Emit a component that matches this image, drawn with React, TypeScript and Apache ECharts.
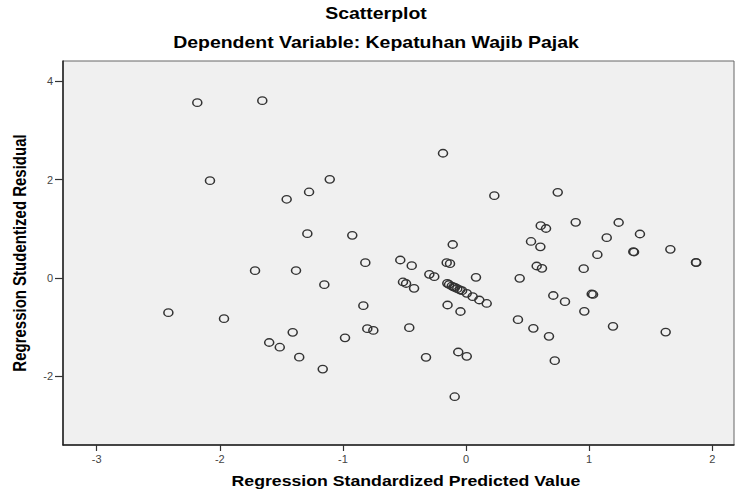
import React, { useEffect, useRef } from "react";
import * as echarts from "echarts";

const titleText = "Scatterplot";
const subtitleText = "Dependent Variable: Kepatuhan Wajib Pajak";
const xAxisName = "Regression Standardized Predicted Value";
const yAxisName = "Regression Studentized Residual";

const xTicks = [-3, -2, -1, 0, 1, 2];
const yTicks = [-2, 0, 2, 4];

const xValues = [
  -2.183, -1.655, -2.08, -0.187, -1.107, -1.275, -1.457, -1.289, -0.924, -0.108,
  0.23, 0.745, 0.607, 0.65, 0.891, 1.24, 0.528, 0.604, 1.143, 1.413,
  1.067, 1.359, 1.365, 1.66, 1.868, 1.87, 0.574, 0.617, 0.956, 0.436,
  0.709, 1.021, 1.032, 0.804, 0.961, 0.168, 0.422, 0.547, 0.674, 1.194,
  1.622, 0.721, -1.714, -1.381, -0.818, -0.534, -0.441, -1.151, -0.298, -0.258,
  -0.512, -0.487, -0.422, -0.157, -0.13, 0.081, -0.15, -0.045, -0.834, -0.802,
  -0.753, -0.461, -1.408, -1.599, -1.513, -0.983, -1.355, -0.325, -0.063, 0.006,
  -1.164, -0.092, -2.418, -1.966, -0.152, -0.138, -0.116, -0.102, -0.089, -0.071,
  -0.049, -0.032, 0.006, 0.054, 0.108,
];

const yValues = [
  3.563, 3.604, 1.978, 2.535, 2.006, 1.748, 1.6, 0.9, 0.868, 0.681,
  1.673, 1.742, 1.063, 1.006, 1.132, 1.128, 0.742, 0.634, 0.819, 0.894,
  0.474, 0.535, 0.528, 0.583, 0.319, 0.311, 0.244, 0.197, 0.189, -0.006,
  -0.356, -0.325, -0.335, -0.482, -0.677, -0.518, -0.848, -1.022, -1.185, -0.982,
  -1.098, -1.681, 0.148, 0.152, 0.311, 0.366, 0.25, -0.136, 0.075, 0.026,
  -0.081, -0.112, -0.209, 0.311, 0.291, 0.014, -0.549, -0.681, -0.563, -1.03,
  -1.065, -1.01, -1.104, -1.311, -1.407, -1.215, -1.61, -1.612, -1.504, -1.591,
  -1.85, -2.413, -0.705, -0.827, -0.108, -0.132, -0.163, -0.183, -0.189, -0.217,
  -0.244, -0.258, -0.311, -0.38, -0.447,
];

const FONT = "'Liberation Sans', Arial, sans-serif";
const STRETCH = 1.18;

export default function App() {
  const ref = useRef<HTMLDivElement>(null);

  useEffect(() => {
    if (!ref.current) return;
    const chart = echarts.init(ref.current, undefined, { renderer: "svg" });
    const data = xValues.map((x, i) => [x, yValues[i]]);

    chart.setOption({
      animation: false,
      backgroundColor: "#ffffff",
      grid: {
        left: 63,
        top: 61,
        width: 671,
        height: 384,
        show: true,
        backgroundColor: "#f0f0f0",
        borderColor: "#666666",
        borderWidth: 1,
      },
      xAxis: {
        type: "value",
        min: -3.274,
        max: 2.177,
        splitLine: { show: false },
        axisLine: { onZero: false, lineStyle: { color: "#222222", width: 1.5 } },
        axisTick: { customValues: xTicks, length: 6, lineStyle: { color: "#333333", width: 1.2 } },
        axisLabel: { customValues: xTicks, fontSize: 11, color: "#444444", margin: 8, fontFamily: FONT },
      },
      yAxis: {
        type: "value",
        min: -3.394,
        max: 4.41,
        splitLine: { show: false },
        axisLine: { onZero: false, lineStyle: { color: "#222222", width: 1.5 } },
        axisTick: { customValues: yTicks, length: 8, lineStyle: { color: "#333333", width: 1.2 } },
        axisLabel: { customValues: yTicks, fontSize: 11, color: "#444444", margin: 10, fontFamily: FONT },
      },
      series: [
        {
          type: "scatter",
          data,
          symbol: "path://M0,5A5,5,0,1,1,10,5A5,5,0,1,1,0,5Z",
          symbolSize: [9, 7.5],
          itemStyle: {
            color: "rgba(0,0,0,0)",
            borderColor: "#333333",
            borderWidth: 1.4,
            opacity: 1,
          },
        },
      ],
      graphic: [
        {
          type: "text",
          x: 376,
          y: 14,
          scaleX: STRETCH,
          style: {
            text: titleText,
            font: `bold 16.5px ${FONT}`,
            fill: "#000000",
            textAlign: "center",
            textVerticalAlign: "middle",
          },
        },
        {
          type: "text",
          x: 376,
          y: 43,
          scaleX: STRETCH,
          style: {
            text: subtitleText,
            font: `bold 16.5px ${FONT}`,
            fill: "#000000",
            textAlign: "center",
            textVerticalAlign: "middle",
          },
        },
        {
          type: "text",
          x: 406,
          y: 481,
          scaleX: STRETCH,
          style: {
            text: xAxisName,
            font: `bold 15px ${FONT}`,
            fill: "#000000",
            textAlign: "center",
            textVerticalAlign: "middle",
          },
        },
        {
          type: "text",
          x: 20,
          y: 253,
          rotation: Math.PI / 2,
          scaleY: STRETCH,
          style: {
            text: yAxisName,
            font: `bold 15px ${FONT}`,
            fill: "#000000",
            textAlign: "center",
            textVerticalAlign: "middle",
          },
        },
      ],
    });

    return () => {
      chart.dispose();
    };
  }, []);

  return (
    <div
      ref={ref}
      style={{ position: "fixed", left: 0, top: 0, width: 735, height: 492 }}
    />
  );
}
